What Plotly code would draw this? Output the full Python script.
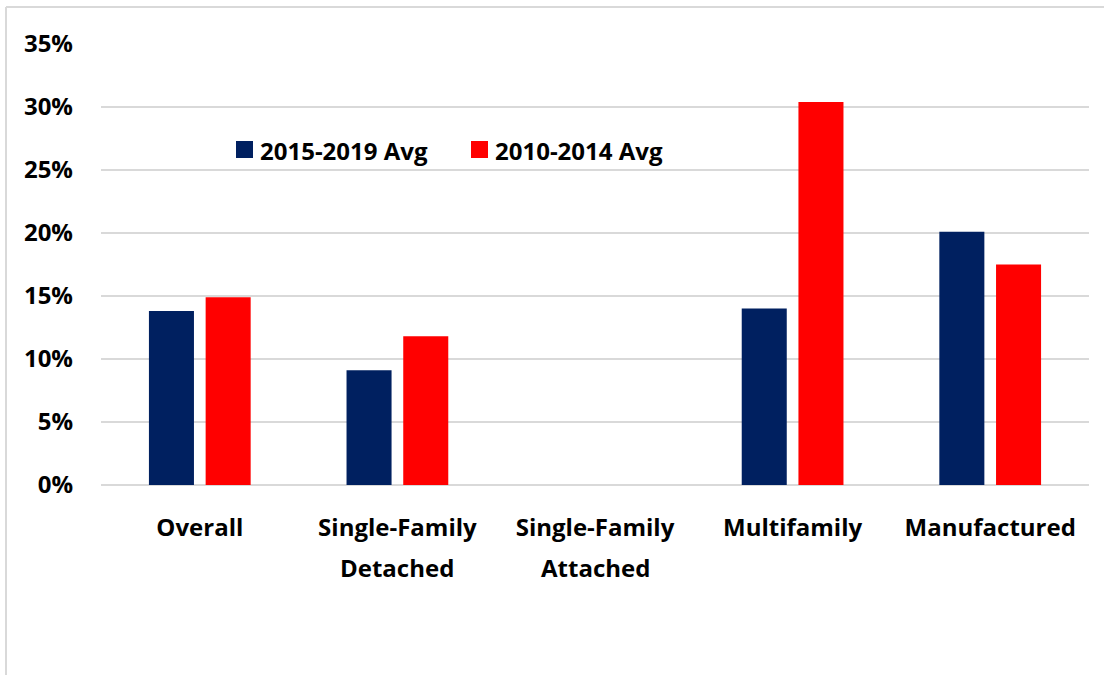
import plotly.graph_objects as go

# Share of new homes by housing type, two five-year averages (percent)
categories = ["Overall", "Single-Family<br>Detached", "Single-Family<br>Attached",
              "Multifamily", "Manufactured"]
avg_2015_2019 = [13.8, 9.1, None, 14.0, 20.1]
avg_2010_2014 = [14.9, 11.8, None, 30.4, 17.5]
series_names = ["2015-2019 Avg", "2010-2014 Avg"]
y_ticks = [0, 5, 10, 15, 20, 25, 30, 35]
y_tick_labels = [f"{v}%" for v in y_ticks]

NAVY = "#002060"
RED = "#FF0000"
GRID = "#D9D9D9"
FONT = "Open Sans"
FSIZE = 24

W, H = 1104, 675
M_L, M_R, M_T, M_B = 101, 15, 44, 190
PW, PH = W - M_L - M_R, H - M_T - M_B


def px_to_paper(x, y):
    return (x - M_L) / PW, (H - M_B - y) / PH


text_font = dict(family=FONT, size=FSIZE, color="#000000", weight="bold")

fig = go.Figure()
fig.add_trace(go.Bar(x=categories, y=avg_2015_2019, name=series_names[0],
                     marker=dict(color=NAVY, line=dict(width=0)), showlegend=False))
fig.add_trace(go.Bar(x=categories, y=avg_2010_2014, name=series_names[1],
                     marker=dict(color=RED, line=dict(width=0)), showlegend=False))

shapes = []
annotations = []

# Category labels: first line as the tick label, second line set a little lower
first_lines = [c.split("<br>")[0] for c in categories]
_, second_y = px_to_paper(0, 567)
for cat in categories:
    parts = cat.split("<br>")
    if len(parts) > 1:
        annotations.append(dict(xref="x", yref="paper", x=cat, y=second_y, text=parts[1],
                                showarrow=False, xanchor="center", yanchor="middle",
                                font=text_font))

# Hand-placed legend: coloured square followed by its label
legend_items = [(236, NAVY, series_names[0]), (471, RED, series_names[1])]
for x0, color, label in legend_items:
    a0, b0 = px_to_paper(x0, 141)
    a1, b1 = px_to_paper(x0 + 17, 158)
    shapes.append(dict(type="rect", xref="paper", yref="paper", x0=a0, x1=a1,
                       y0=b1, y1=b0, fillcolor=color, line=dict(width=0)))
    tx, ty = px_to_paper(x0 + 22, 150)
    annotations.append(dict(xref="paper", yref="paper", x=tx, y=ty, text=label,
                            showarrow=False, xanchor="left", yanchor="middle",
                            font=text_font))

# Light frame around the chart area (top and left edges)
fx0, fy0 = px_to_paper(6, 7)
fx1, fy1 = px_to_paper(W + 5, H + 5)
shapes.append(dict(type="line", xref="paper", yref="paper", x0=fx0, x1=fx1, y0=fy0, y1=fy0,
                   line=dict(color=GRID, width=2)))
shapes.append(dict(type="line", xref="paper", yref="paper", x0=fx0, x1=fx0, y0=fy0, y1=fy1,
                   line=dict(color=GRID, width=2)))

fig.update_layout(
    width=W, height=H,
    margin=dict(l=M_L, r=M_R, t=M_T, b=M_B, pad=0),
    paper_bgcolor="white", plot_bgcolor="white",
    barmode="group", bargap=0.426, bargroupgap=0.206,
    font=dict(family=FONT, size=FSIZE, color="#000000"),
    shapes=shapes, annotations=annotations,
)
fig.update_xaxes(tickvals=categories, ticktext=first_lines,
                 showgrid=False, showline=False, zeroline=False, ticks="",
                 tickfont=text_font, ticklabelstandoff=26)
fig.update_yaxes(range=[0, 35], tickvals=y_ticks, ticktext=y_tick_labels,
                 showgrid=True, gridcolor=GRID, gridwidth=2,
                 zeroline=True, zerolinecolor=GRID, zerolinewidth=2,
                 showline=False, ticks="",
                 tickfont=text_font, ticklabelstandoff=27)

fig.write_html("out.html")
